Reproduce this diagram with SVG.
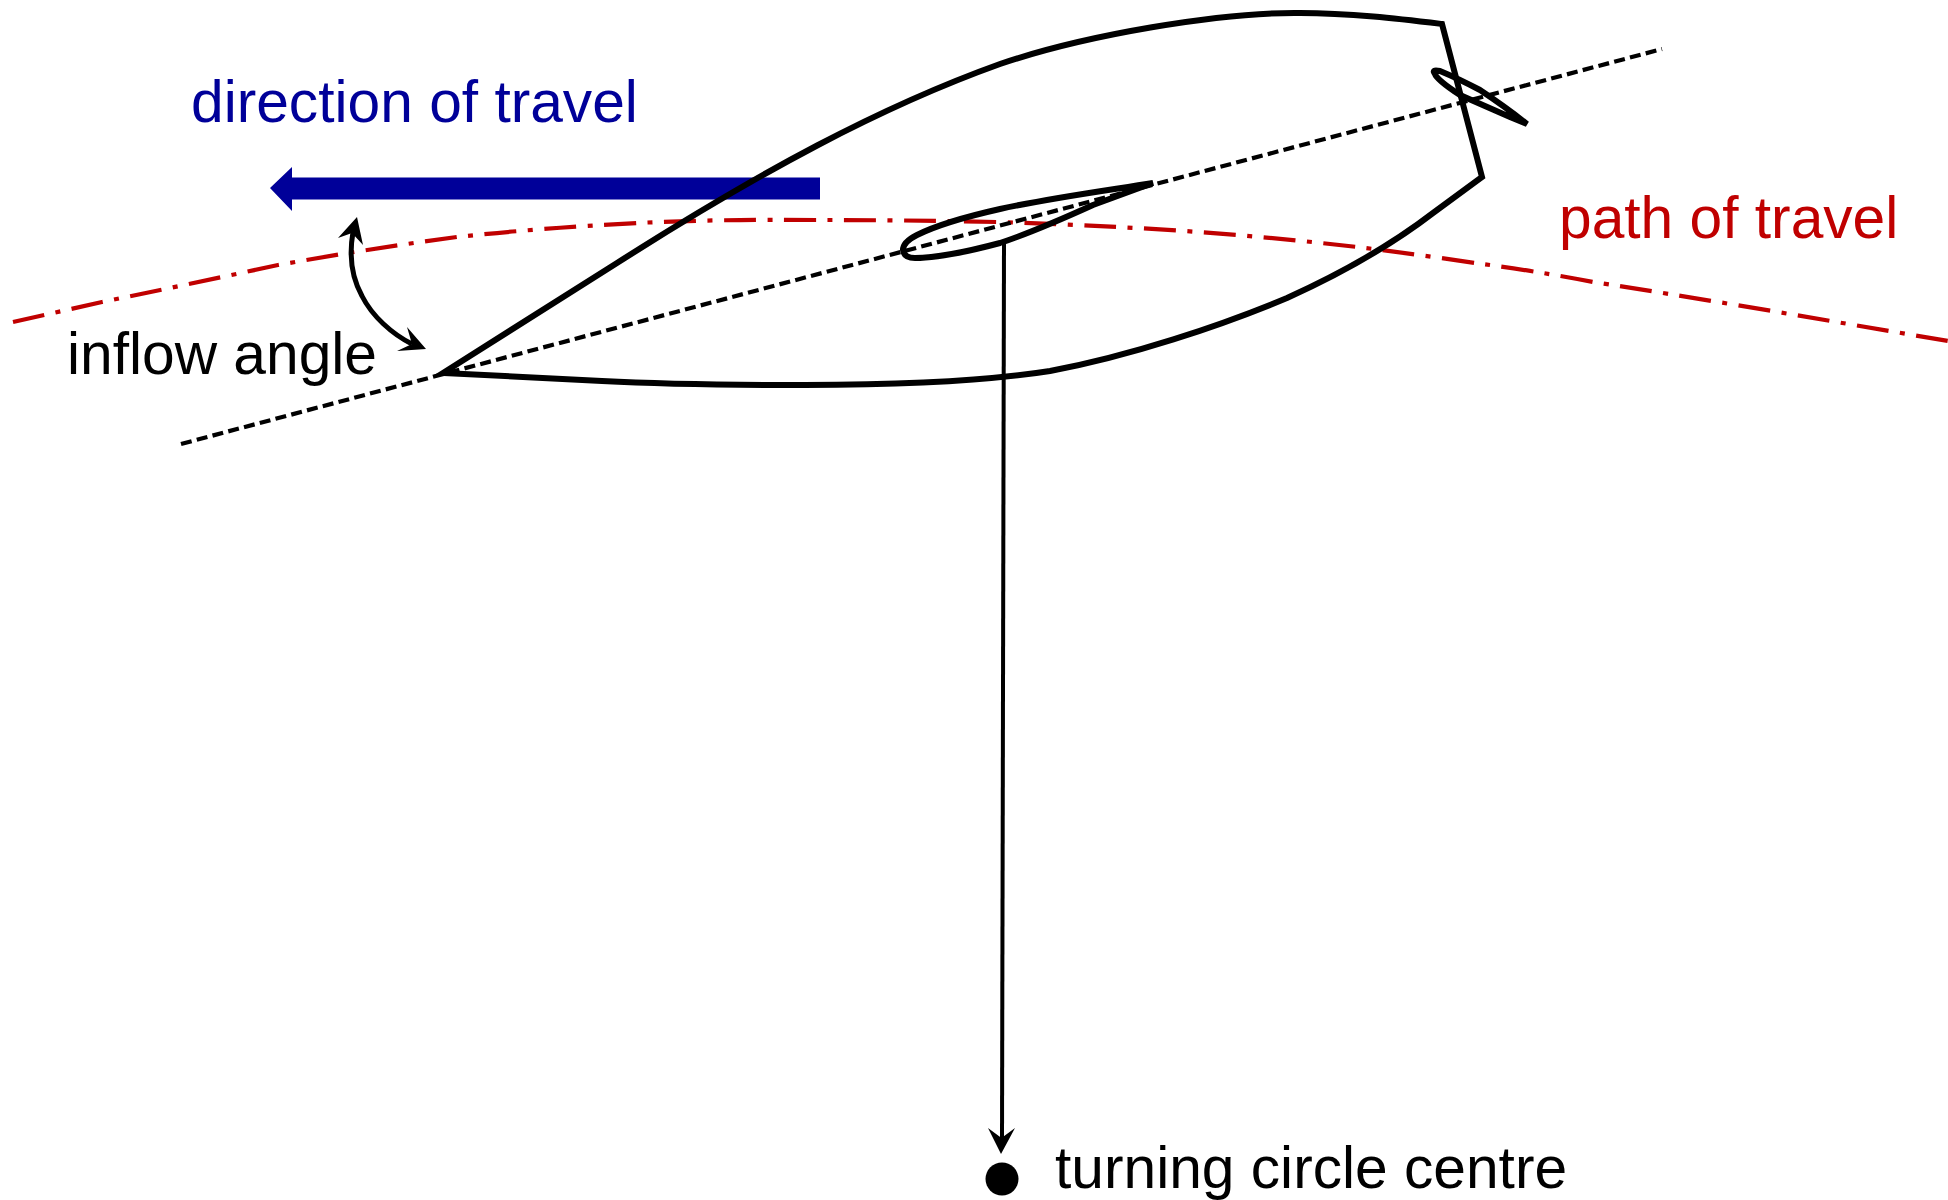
<svg xmlns="http://www.w3.org/2000/svg" width="1948" height="1200" viewBox="0 0 1948 1200">
<style>
text{font-family:"Liberation Sans",Arial,sans-serif;font-size:58.7px}
.s{fill:none;stroke:#000;stroke-width:6;stroke-linejoin:miter}
.d{fill:none;stroke:#000;stroke-width:4.2;stroke-dasharray:11 5.3}
.r{fill:none;stroke:#c00000;stroke-width:4.2;stroke-dasharray:32 11.5 5 11.5}
</style>
<rect width="1948" height="1200" fill="#fff"/>
<g id="path-of-travel">
<path class="r" d="M13 322L102 302Q190 284 278 265Q367 249 457 237Q540 228 637 223Q720 219 817 220Q900 220 997 222Q1060 224 1117 227Q1177 230 1237 235Q1297 240 1357 247Q1415 254 1475 263Q1530 270 1593 282Q1653 291 1772 311L1948 341"/>
<text x="1559" y="238" fill="#c00000">path of travel</text>
</g>
<g id="direction-of-travel">
<path fill="#000099" d="M270 188L292 167V177.500H820V199.500H292V211Z"/>
<text x="191" y="122" fill="#000099">direction of travel</text>
</g>
<g id="chord-line"><path class="d" d="M181 444L1662 49"/></g>
<g id="hull">
<path class="s" d="M443 373L617 263C760 172 880 107 1000 64C1085 35 1220 12 1300 13C1350 13 1400 19 1442 24L1482 177L1433 213C1390 246 1340 274 1287 298C1220 326 1130 356 1050 371C980 382 880 385 805 385C720 385 640 383 602 381L443 373Z"/>
</g>
<g id="keel-foil">
<path class="s" d="M1153 183C1110 190 1050 198 1000 209C960 218 935 226 917 235Q903 242 903 250Q904 258 915 258C935 258 970 251 1000 243C1030 233 1060 220 1093 205Z"/>
</g>
<g id="rudder-foil">
<path class="s" d="M1527 124Q1507 108 1480 90Q1457 78 1440 71Q1431 69 1435 74Q1437 80 1460 95Q1487 107 1510 117Z"/>
</g>
<g id="connectors">
<path fill="none" stroke="#000" stroke-width="4" d="M1004 242L1002 1140"/>
<path fill="#000" d="M1001 1154L988 1128L1001.500 1138L1015 1128Z"/>
<path fill="none" stroke="#000" stroke-width="5" d="M353 232C349 255 352 278 362 296C372 316 392 334 412 344"/>
<path fill="#000" d="M357 217L338 238L352 233L363 245Z"/>
<path fill="#000" d="M426 349L407 327L412 344L397 351Z"/>
</g>
<g id="inflow-angle"><text x="67" y="374" fill="#000">inflow angle</text></g>
<g id="turning-circle-centre">
<circle cx="1002" cy="1179" r="16.500" fill="#000"/>
<text x="1055" y="1188" fill="#000">turning circle centre</text>
</g>
</svg>
